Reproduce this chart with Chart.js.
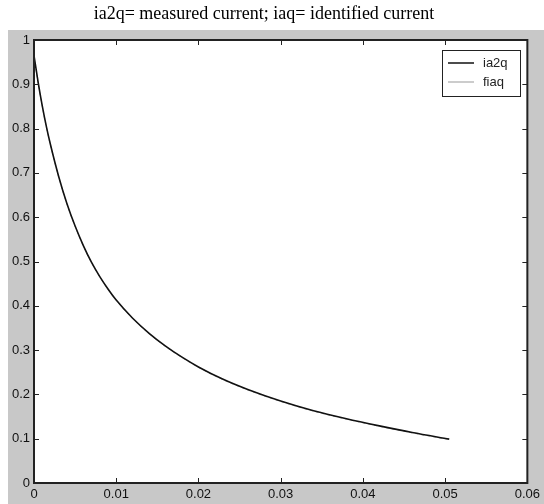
<!DOCTYPE html>
<html>
<head>
<meta charset="utf-8">
<script src="https://cdn.jsdelivr.net/npm/chart.js@4"></script>
<style>
  html, body { margin: 0; padding: 0; background: #fff; }
  #wrap { width: 544px; height: 504px; position: relative; }
</style>
</head>
<body>
<div id="wrap"><canvas id="currentChart"></canvas></div>
<script>
var chartTitle = 'ia2q= measured current; iaq= identified current';
var seriesNames = ['ia2q', 'fiaq'];
var timeValues = [0, 0.0005, 0.001, 0.0015, 0.002, 0.003, 0.004, 0.005, 0.006, 0.007, 0.008, 0.009, 0.01, 0.012, 0.014, 0.016, 0.018, 0.02, 0.023, 0.026, 0.03, 0.034, 0.038, 0.042, 0.046, 0.0505];
var ia2qValues = [0.965, 0.905, 0.852, 0.805, 0.764, 0.692, 0.631, 0.58, 0.536, 0.498, 0.466, 0.438, 0.413, 0.372, 0.338, 0.309, 0.284, 0.262, 0.234, 0.211, 0.185, 0.163, 0.145, 0.129, 0.114, 0.099];
var iaqValues  = [0.962, 0.903, 0.851, 0.804, 0.763, 0.691, 0.63, 0.579, 0.535, 0.497, 0.465, 0.437, 0.412, 0.371, 0.337, 0.308, 0.283, 0.261, 0.233, 0.21, 0.184, 0.162, 0.144, 0.128, 0.113, 0.098];
var xTicks = [0, 0.01, 0.02, 0.03, 0.04, 0.05, 0.06];
var yTicks = [0, 0.1, 0.2, 0.3, 0.4, 0.5, 0.6, 0.7, 0.8, 0.9, 1];

var tickFont = { family: "'Liberation Sans Narrow', 'Liberation Sans', Arial, sans-serif", size: 13 };

function toPoints(xs, ys) {
  return xs.map((x, i) => ({ x: x, y: ys[i] }));
}

// gray figure background, plot box, inward ticks and the boxed legend
var matlabFrame = {
  id: 'matlabFrame',
  beforeDraw(chart) {
    var ctx = chart.ctx, a = chart.chartArea;
    ctx.save();
    ctx.fillStyle = '#c8c8c8';
    ctx.fillRect(8, 30, chart.width - 8, chart.height - 30);
    ctx.fillStyle = '#ffffff';
    ctx.fillRect(a.left, a.top, a.right - a.left, a.bottom - a.top);
    ctx.restore();
  },
  afterDraw(chart) {
    var ctx = chart.ctx, a = chart.chartArea;
    var xs = chart.scales.x, ys = chart.scales.y;
    ctx.save();
    ctx.strokeStyle = '#222';
    ctx.lineWidth = 1;
    ctx.beginPath();
    xTicks.forEach(v => {
      var px = Math.round(xs.getPixelForValue(v)) + 0.5;
      ctx.moveTo(px, a.bottom); ctx.lineTo(px, a.bottom - 5);
      ctx.moveTo(px, a.top); ctx.lineTo(px, a.top + 5);
    });
    yTicks.forEach(v => {
      var py = Math.round(ys.getPixelForValue(v)) + 0.5;
      ctx.moveTo(a.left, py); ctx.lineTo(a.left + 5, py);
      ctx.moveTo(a.right, py); ctx.lineTo(a.right - 5, py);
    });
    ctx.stroke();
    ctx.lineWidth = 2;
    ctx.strokeRect(a.left, a.top, a.right - a.left, a.bottom - a.top);

    // legend
    var lx = 442, ly = 50, lw = 78, lh = 46;
    ctx.fillStyle = '#fff';
    ctx.fillRect(lx, ly, lw, lh);
    ctx.lineWidth = 1;
    ctx.strokeStyle = '#222';
    ctx.strokeRect(lx + 0.5, ly + 0.5, lw, lh);
    var styles = [{ c: '#111', w: 1.5 }, { c: '#999', w: 1 }];
    seriesNames.forEach((name, i) => {
      var y = ly + 13 + i * 19;
      ctx.strokeStyle = styles[i].c;
      ctx.lineWidth = styles[i].w;
      ctx.beginPath();
      ctx.moveTo(lx + 6, y); ctx.lineTo(lx + 32, y);
      ctx.stroke();
      ctx.fillStyle = '#222';
      ctx.font = "13px 'Liberation Sans Narrow', 'Liberation Sans', Arial, sans-serif";
      ctx.textBaseline = 'middle';
      ctx.fillText(name, lx + 41, y);
    });
    ctx.restore();
  }
};

var chartInstance = new Chart(document.getElementById('currentChart').getContext('2d'), {
  type: 'line',
  data: {
    datasets: [
      {
        label: seriesNames[0],
        data: toPoints(timeValues, ia2qValues),
        borderColor: '#111',
        borderWidth: 1.6,
        pointRadius: 0,
        cubicInterpolationMode: 'monotone',
        fill: false
      },
      {
        label: seriesNames[1],
        data: toPoints(timeValues, iaqValues),
        borderColor: '#aaaaaa',
        borderWidth: 1,
        borderDash: [3, 3],
        pointRadius: 0,
        cubicInterpolationMode: 'monotone',
        fill: false
      }
    ]
  },
  options: {
    responsive: true,
    maintainAspectRatio: false,
    animation: false,
    layout: { padding: { top: 0, right: 16, bottom: 0, left: 0 } },
    plugins: {
      legend: { display: false },
      tooltip: { enabled: false },
      title: {
        display: true,
        text: chartTitle,
        color: '#000',
        font: { family: "'Liberation Serif', 'Times New Roman', serif", size: 18, weight: 'normal' },
        padding: { top: 3, bottom: 15.4 }
      }
    },
    scales: {
      x: {
        type: 'linear',
        min: 0,
        max: 0.06,
        afterBuildTicks: s => { s.ticks = xTicks.map(v => ({ value: v })); },
        afterFit: s => { s.height = 21; },
        grid: { display: false, drawTicks: false },
        border: { display: false },
        ticks: {
          color: '#111',
          font: tickFont,
          padding: 4,
          maxRotation: 0,
          callback: v => String(v)
        }
      },
      y: {
        min: 0,
        max: 1,
        afterBuildTicks: s => { s.ticks = yTicks.map(v => ({ value: v })); },
        afterFit: s => { s.width = 34; },
        grid: { display: false, drawTicks: false },
        border: { display: false },
        ticks: {
          color: '#111',
          font: tickFont,
          padding: 4,
          callback: v => String(v)
        }
      }
    }
  },
  plugins: [matlabFrame]
});
</script>
</body>
</html>
